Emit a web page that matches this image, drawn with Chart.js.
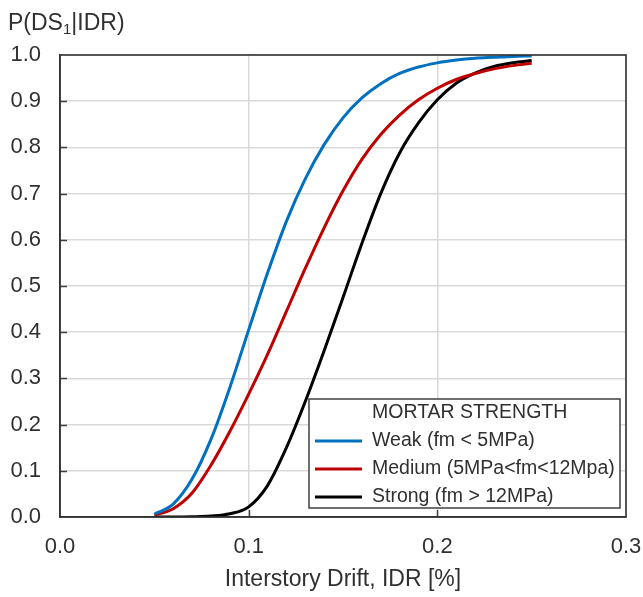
<!DOCTYPE html>
<html><head><meta charset="utf-8">
<script src="https://cdn.jsdelivr.net/npm/chart.js@4.4.0/dist/chart.umd.min.js"></script>
<style>html,body{margin:0;padding:0;background:#fff}#wrap{width:643px;height:597px}</style>
</head><body><div id="wrap"><canvas id="c" width="643" height="597"></canvas></div>
<script>
// ---- data ----
const idr = [0.05,0.06,0.07,0.08,0.09,0.10,0.11,0.12,0.13,0.14,0.15,0.16,0.17,0.18,0.19,0.20,0.21,0.22,0.23,0.24,0.25];
const weak   = [0.006,0.028,0.082,0.168,0.280,0.405,0.528,0.640,0.732,0.806,0.864,0.907,0.938,0.960,0.974,0.983,0.989,0.993,0.995,0.997,0.998];
const medium = [0.004,0.018,0.052,0.112,0.185,0.266,0.352,0.445,0.538,0.626,0.706,0.774,0.828,0.870,0.903,0.928,0.947,0.960,0.970,0.977,0.982];
const strong = [0.000,0.000,0.0005,0.002,0.007,0.022,0.068,0.150,0.250,0.360,0.475,0.592,0.700,0.788,0.853,0.903,0.939,0.961,0.975,0.983,0.988];
const seriesLabels = ['Weak (fm < 5MPa)','Medium (5MPa<fm<12Mpa)','Strong (fm > 12MPa)'];
const seriesColors = ['#0070C0','#C00000','#000000'];
const legendTitle = 'MORTAR STRENGTH';
const xTicks = [0.0,0.1,0.2,0.3];
const yTicks = [0.0,0.1,0.2,0.3,0.4,0.5,0.6,0.7,0.8,0.9,1.0];
const xTitle = 'Interstory Drift, IDR [%]';
const yTitleParts = ['P(DS','1','|IDR)'];

const FONT = "'Liberation Sans', Arial, sans-serif";
const TXT = '#303030';
const toPts = arr => idr.map((x,i)=>({x:x,y:arr[i]}));

const customDraw = {
  id:'customDraw',
  beforeDatasetsDraw(chart){
    const {ctx, chartArea:a, scales:{x,y}} = chart;
    ctx.save();
    ctx.strokeStyle = '#404040'; ctx.lineWidth = 1.5;
    ctx.beginPath();
    yTicks.forEach(v=>{ if(v>0 && v<1){ const py=Math.round(y.getPixelForValue(v))+0.5; ctx.moveTo(a.left,py); ctx.lineTo(a.left+7,py);} });
    xTicks.forEach(v=>{ if(v>0 && v<0.3){ const px=Math.round(x.getPixelForValue(v))+0.5; ctx.moveTo(px,a.bottom); ctx.lineTo(px,a.bottom-7);} });
    ctx.stroke();
    ctx.restore();
  },
  afterDatasetsDraw(chart){
    const {ctx, chartArea:a} = chart;
    ctx.save();
    // frame
    ctx.strokeStyle = '#333333'; ctx.lineWidth = 1.6;
    ctx.strokeRect(a.left, a.top, a.right-a.left, a.bottom-a.top);
    // legend box
    const lx=309, ly=399, lw=311, lh=109;
    ctx.fillStyle='#ffffff'; ctx.fillRect(lx,ly,lw,lh);
    ctx.strokeStyle='#404040'; ctx.lineWidth=1.5; ctx.strokeRect(lx,ly,lw,lh);
    ctx.font = "19.5px "+FONT; ctx.fillStyle=TXT; ctx.textBaseline='middle'; ctx.textAlign='left';
    ctx.fillText(legendTitle, 372, 413);
    chart.data.datasets.forEach((ds,i)=>{
      const yy = 441 + i*28;
      ctx.strokeStyle = ds.borderColor; ctx.lineWidth = 3;
      ctx.beginPath(); ctx.moveTo(315,yy); ctx.lineTo(362,yy); ctx.stroke();
      ctx.fillStyle=TXT;
      ctx.fillText(ds.label, 372, yy);
    });
    // y title with subscript
    ctx.fillStyle=TXT; ctx.textBaseline='alphabetic';
    let tx = 8; const ty = 30;
    ctx.font = "23px "+FONT; ctx.fillText(yTitleParts[0], tx, ty); tx += ctx.measureText(yTitleParts[0]).width;
    ctx.font = "15px "+FONT; ctx.fillText(yTitleParts[1], tx, ty+4); tx += ctx.measureText(yTitleParts[1]).width;
    ctx.font = "23px "+FONT; ctx.fillText(yTitleParts[2], tx, ty);
    ctx.restore();
  }
};

new Chart(document.getElementById('c'), {
  type:'line',
  data:{ datasets:[
    {label:seriesLabels[0], data:toPts(weak),   borderColor:seriesColors[0], borderWidth:3, pointRadius:0, fill:false, cubicInterpolationMode:'monotone'},
    {label:seriesLabels[1], data:toPts(medium), borderColor:seriesColors[1], borderWidth:3, pointRadius:0, fill:false, cubicInterpolationMode:'monotone'},
    {label:seriesLabels[2], data:toPts(strong), borderColor:seriesColors[2], borderWidth:3, pointRadius:0, fill:false, cubicInterpolationMode:'monotone'}
  ]},
  options:{
    responsive:false, devicePixelRatio:1, animation:false,
    layout:{padding:{left:0, top:55, right:17, bottom:0}},
    plugins:{legend:{display:false}, tooltip:{enabled:false}, title:{display:false}},
    scales:{
      x:{type:'linear', min:0, max:0.3,
         afterBuildTicks:s=>{ s.ticks = xTicks.map(v=>({value:v})); },
         afterFit:s=>{ s.height = 80; s.paddingLeft = 0; s.paddingRight = 0; },
         ticks:{callback:v=>Number(v).toFixed(1), color:TXT, font:{family:FONT, size:22}, padding:17, maxRotation:0},
         grid:{color:'#d9d9d9', lineWidth:1.5, drawTicks:false},
         border:{display:true, color:'#333333', width:1.6},
         title:{display:true, text:xTitle, color:TXT, font:{family:FONT, size:23}, padding:{top:0,bottom:4}}
      },
      y:{type:'linear', min:0, max:1,
         afterBuildTicks:s=>{ s.ticks = yTicks.map(v=>({value:v})); },
         afterFit:s=>{ s.width = 60; s.paddingTop = 0; s.paddingBottom = 0; },
         ticks:{callback:v=>Number(v).toFixed(1), color:TXT, font:{family:FONT, size:22}, padding:19},
         grid:{color:'#d9d9d9', lineWidth:1.5, drawTicks:false},
         border:{display:true, color:'#333333', width:1.6}
      }
    }
  },
  plugins:[customDraw]
});
</script></body></html>
